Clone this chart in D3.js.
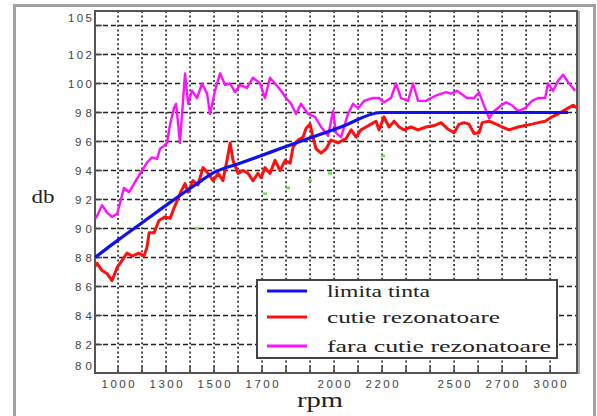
<!DOCTYPE html>
<html>
<head>
<meta charset="utf-8">
<script src="https://cdn.jsdelivr.net/npm/d3@7"></script>
<style>
  html, body { margin: 0; padding: 0; background: #fff; }
  svg { display: block; }
</style>
</head>
<body>
<div id="chart"></div>
<script>
// rpm tick labels (axis is not linear: 150 rpm per grid step at the ends, 100 in the middle)
const rpmTicks = [1000, 1300, 1500, 1700, 2000, 2200, 2500, 2700, 3000];
const dbTicks = [80, 82, 84, 86, 88, 90, 92, 94, 96, 98, 100, 102, 105];
const dbGrid = [82, 84, 86, 88, 90, 92, 94, 96, 98, 100, 102, 104];

// limita tinta
const blueRpm = [856, 1012, 1169, 1317, 1421, 1504, 1608, 1733, 1858, 2029, 2196, 3112];
const blueDb  = [88.0, 89.3, 90.55, 91.8, 93.0, 93.9, 94.5, 95.25, 96.0, 97.0, 98.0, 98.0];

// cutie rezonatoare
const redRpm = [856, 869, 900, 931, 962, 994, 1025, 1056, 1087, 1131, 1162, 1181, 1194, 1225, 1256, 1294,
  1317, 1333, 1346, 1358, 1379, 1392, 1412, 1433, 1454, 1475, 1496, 1517, 1537, 1554, 1567, 1579,
  1600, 1621, 1642, 1662, 1683, 1696, 1712, 1733, 1754, 1775, 1796, 1817, 1829, 1850, 1871, 1883,
  1900, 1912, 1925, 1946, 1967, 1987, 2017, 2037, 2050, 2071, 2092, 2112, 2133, 2154, 2175, 2187,
  2208, 2229, 2250, 2271, 2292, 2321, 2350, 2383, 2417, 2446, 2471, 2500, 2521, 2542, 2562, 2583,
  2604, 2617, 2646, 2675, 2700, 2744, 2800, 2844, 2887, 2925, 2969, 3012, 3050, 3081, 3112, 3144, 3169];
const redDb = [87.4, 87.6, 87.1, 86.9, 86.4, 87.3, 87.8, 88.3, 88.1, 88.3, 88.1, 88.7, 89.7, 89.7, 90.55, 90.8,
  90.7, 91.4, 91.9, 92.4, 93.1, 92.5, 93.3, 93.0, 94.2, 93.8, 93.3, 93.8, 93.3, 94.7, 95.9, 94.7,
  93.8, 94.0, 93.8, 93.3, 93.8, 93.5, 94.2, 93.8, 94.7, 94.0, 94.7, 94.5, 95.6, 96.1, 96.3, 96.9,
  97.2, 96.3, 95.5, 95.2, 95.5, 96.1, 95.9, 96.1, 96.2, 96.8, 96.3, 96.8, 97.0, 97.2, 97.4, 96.8,
  97.7, 97.0, 97.4, 97.0, 96.8, 97.0, 96.8, 97.0, 97.1, 97.3, 96.9, 96.6, 97.2, 97.3, 97.2, 96.55,
  96.6, 97.3, 97.4, 97.2, 97.0, 96.8, 97.0, 97.1, 97.2, 97.3, 97.4, 97.7, 97.9, 98.1, 98.3, 98.5, 98.3];

// fara cutie rezonatoare
const magRpm = [862, 900, 931, 962, 994, 1037, 1069, 1100, 1150, 1181, 1212, 1244, 1262, 1287, 1304, 1317,
  1333, 1342, 1358, 1379, 1392, 1408, 1429, 1450, 1471, 1483, 1504, 1525, 1546, 1567, 1587, 1608,
  1637, 1662, 1692, 1712, 1733, 1754, 1779, 1800, 1821, 1842, 1862, 1892, 1921, 1946, 1975, 1996,
  2008, 2029, 2058, 2079, 2100, 2125, 2162, 2187, 2208, 2237, 2258, 2279, 2308, 2329, 2350, 2383,
  2404, 2429, 2467, 2487, 2512, 2529, 2554, 2583, 2604, 2617, 2646, 2667, 2696, 2725, 2762, 2800,
  2844, 2887, 2925, 2969, 2987, 3019, 3050, 3081, 3112, 3156];
const magDb = [90.7, 91.6, 91.1, 90.8, 91.0, 92.8, 92.5, 93.1, 94.0, 94.55, 94.9, 94.8, 95.5, 95.7, 95.9, 97.2,
  98.3, 98.6, 95.9, 100.7, 98.6, 99.5, 99.0, 100.0, 99.3, 97.9, 99.5, 100.7, 99.9, 100.0, 99.4, 99.9,
  99.7, 100.4, 100.0, 99.0, 100.4, 100.0, 99.5, 99.0, 98.6, 97.9, 98.6, 97.9, 97.7, 97.0, 96.4, 98.1,
  96.6, 96.3, 97.9, 98.6, 98.3, 98.8, 99.0, 99.0, 98.7, 99.0, 100.0, 99.0, 98.8, 100.0, 98.8, 98.8,
  99.0, 99.2, 99.4, 99.3, 99.5, 99.3, 99.0, 99.0, 99.4, 98.8, 97.6, 98.1, 98.5, 98.7, 98.5, 98.1,
  98.3, 98.8, 99.0, 99.0, 100.0, 99.5, 100.2, 100.6, 100.1, 99.5];

// stray green marks
const greenRpm = [1429, 1712, 1808, 1900, 1983, 2204];
const greenDb  = [90.0, 92.4, 92.8, 93.3, 93.8, 95.0];

const legendLabels = ["limita tinta", "cutie rezonatoare", "fara cutie rezonatoare"];
const legendColors = ["#1010f0", "#ff1010", "#ff10ff"];

const W = 597, H = 416;
const plot = { left: 95, right: 577, top: 11, bottom: 373 };

const svg = d3.select("#chart").append("svg")
  .attr("width", W).attr("height", H);

// rpm -> grid index (piecewise), grid index -> pixel
const rpmToIdx = d3.scaleLinear().domain([1000, 1300, 2700, 3000]).range([0, 2, 16, 18]);
const gx = d3.scaleLinear().domain([-0.96, 19.12]).range([plot.left, plot.right]);
const x = v => gx(rpmToIdx(v));
const y = d3.scaleLinear().domain([80, 105]).range([373.5, 11]);

// outer frame
svg.append("rect")
  .attr("x", 14.5).attr("y", 5.5).attr("width", 580).attr("height", 430)
  .attr("fill", "#fff").attr("stroke", "#a2a2a2").attr("stroke-width", 3);

svg.append("defs").append("clipPath").attr("id", "clip")
  .append("rect")
  .attr("x", plot.left).attr("y", plot.top)
  .attr("width", plot.right - plot.left).attr("height", plot.bottom - plot.top);

// grid
const grid = svg.append("g");
grid.selectAll(".hg").data(dbGrid).join("line")
  .attr("x1", plot.left).attr("x2", plot.right)
  .attr("y1", d => y(d)).attr("y2", d => y(d))
  .attr("stroke", "#222").attr("stroke-width", 1.4)
  .attr("stroke-dasharray", "5,3");
grid.selectAll(".vg").data(d3.range(0, 19)).join("line")
  .attr("x1", d => gx(d)).attr("x2", d => gx(d))
  .attr("y1", plot.top).attr("y2", plot.bottom)
  .attr("stroke", "#222").attr("stroke-width", 1.6)
  .attr("stroke-dasharray", "2,2.6");

// axis ticks
grid.selectAll(".yt").data(dbGrid).join("line")
  .attr("x1", plot.left).attr("x2", plot.left + 7)
  .attr("y1", d => y(d)).attr("y2", d => y(d))
  .attr("stroke", "#444").attr("stroke-width", 1.5);
grid.selectAll(".xt").data(d3.range(0, 19)).join("line")
  .attr("x1", d => gx(d)).attr("x2", d => gx(d))
  .attr("y1", plot.bottom).attr("y2", plot.bottom - 6)
  .attr("stroke", "#444").attr("stroke-width", 1.5);

// plot frame
svg.append("rect")
  .attr("x", plot.left).attr("y", plot.top)
  .attr("width", plot.right - plot.left).attr("height", plot.bottom - plot.top)
  .attr("fill", "none").attr("stroke", "#555").attr("stroke-width", 2);
svg.append("line")
  .attr("x1", plot.right + 2).attr("x2", plot.right + 2)
  .attr("y1", plot.top).attr("y2", plot.bottom + 1)
  .attr("stroke", "#aaa").attr("stroke-width", 2);

// series
const series = [
  { rpm: redRpm, db: redDb, color: legendColors[1], w: 3, curve: d3.curveLinear },
  { rpm: magRpm, db: magDb, color: legendColors[2], w: 2.4, curve: d3.curveLinear },
  { rpm: blueRpm, db: blueDb, color: legendColors[0], w: 3.2, curve: d3.curveMonotoneX }
];
const lines = svg.append("g").attr("clip-path", "url(#clip)");
lines.selectAll(".green").data(d3.range(greenRpm.length)).join("line")
  .attr("x1", i => x(greenRpm[i]) - 2).attr("x2", i => x(greenRpm[i]) + 2)
  .attr("y1", i => y(greenDb[i])).attr("y2", i => y(greenDb[i]))
  .attr("stroke", "#6fdc4a").attr("stroke-width", 2.5);
series.forEach(s => {
  const line = d3.line()
    .x(i => x(s.rpm[i]))
    .y(i => y(s.db[i]))
    .curve(s.curve);
  lines.append("path")
    .attr("d", line(d3.range(s.rpm.length)))
    .attr("fill", "none")
    .attr("stroke", s.color)
    .attr("stroke-width", s.w)
    .attr("stroke-linejoin", "round");
});

// tick labels
svg.append("g").selectAll("text").data(dbTicks).join("text")
  .attr("x", 92)
  .attr("y", d => y(Math.max(80.55, Math.min(104.5, d))))
  .attr("dy", "0.36em")
  .attr("text-anchor", "end")
  .attr("font-family", "Liberation Sans, Arial, sans-serif")
  .attr("font-size", 11.5)
  .attr("fill", "#444")
  .attr("textLength", d => String(d).length === 3 ? 24 : 17)
  .attr("lengthAdjust", "spacing")
  .text(d => d);

svg.append("g").selectAll("text").data(rpmTicks).join("text")
  .attr("x", d => x(d))
  .attr("y", 388)
  .attr("text-anchor", "middle")
  .attr("font-family", "Liberation Sans, Arial, sans-serif")
  .attr("font-size", 11.5)
  .attr("fill", "#444")
  .attr("textLength", 33)
  .attr("lengthAdjust", "spacing")
  .text(d => d);

// axis titles
svg.append("text")
  .attr("x", 43).attr("y", 203)
  .attr("text-anchor", "middle")
  .attr("font-family", "Liberation Serif, Times New Roman, serif")
  .attr("font-size", 18).attr("fill", "#222")
  .attr("textLength", 23).attr("lengthAdjust", "spacingAndGlyphs")
  .text("db");
svg.append("text")
  .attr("x", 320).attr("y", 407)
  .attr("text-anchor", "middle")
  .attr("font-family", "Liberation Serif, Times New Roman, serif")
  .attr("font-size", 21).attr("fill", "#222")
  .attr("textLength", 46).attr("lengthAdjust", "spacingAndGlyphs")
  .text("rpm");

// legend
const legend = svg.append("g");
legend.append("rect")
  .attr("x", 257).attr("y", 280).attr("width", 300).attr("height", 78)
  .attr("fill", "#fff").attr("stroke", "#444").attr("stroke-width", 2);
const legendY = [291, 317, 346];
const legendW = [103, 173, 224];
legendLabels.forEach((t, i) => {
  legend.append("line")
    .attr("x1", 267).attr("x2", 307)
    .attr("y1", legendY[i]).attr("y2", legendY[i])
    .attr("stroke", legendColors[i]).attr("stroke-width", 3);
  legend.append("text")
    .attr("x", 327).attr("y", legendY[i] + 6)
    .attr("font-family", "Liberation Serif, Times New Roman, serif")
    .attr("font-size", 17.5).attr("fill", "#222")
    .attr("textLength", legendW[i]).attr("lengthAdjust", "spacingAndGlyphs")
    .text(t);
});
</script>
</body>
</html>
